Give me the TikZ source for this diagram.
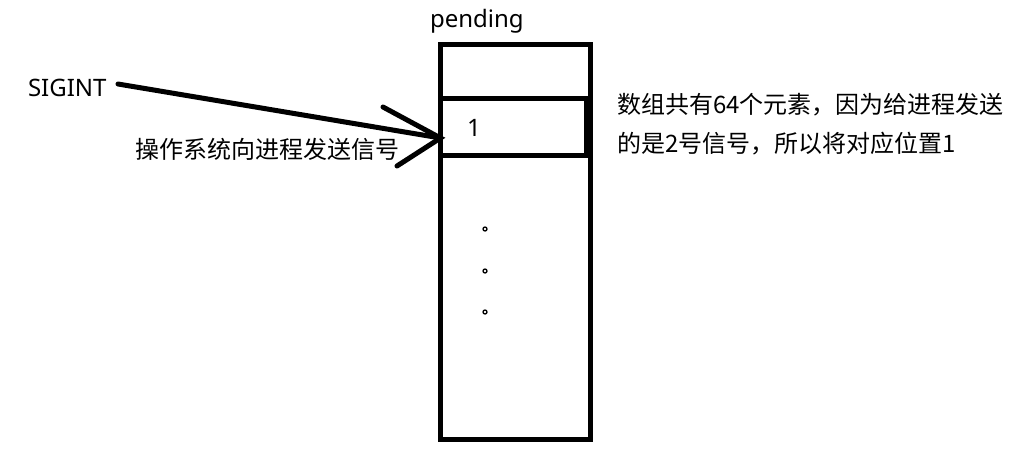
\documentclass[tikz,border=0pt]{standalone}
\usepackage{fontspec}
\setmainfont{Noto Sans}
\newfontfamily\cjk{Noto Sans CJK SC}
\tikzset{
  heavy/.style={line width=5pt, line cap=butt},
  cellbox/.style={draw, heavy, inner sep=0pt, outer sep=0pt},
  lbl/.style={inner sep=0pt, outer sep=0pt, anchor=base west, font=\fontsize{24}{28}\selectfont},
  dotc/.style={draw, line width=1.3pt, circle, inner sep=0pt, minimum size=4pt},
}
\begin{document}
\begin{tikzpicture}[x=1pt,y=-1pt]
\useasboundingbox (0,0) rectangle (1031,469);
% array outline and cells
\node[cellbox, minimum width=150pt, minimum height=395pt] (array) at (515.5,242) {};
\node[cellbox, minimum width=150pt, minimum height=54pt] (cellA) at (515.5,71.5) {};
\node[cellbox, minimum width=146pt, minimum height=57pt] (cellB) at (513.5,127) {};
\node[lbl] (one) at (467,136) {1};
\node[lbl] (pending) at (430,27) {pending};
% dots
\node[dotc] (d1) at (485,229) {};
\node[dotc] (d2) at (485,271) {};
\node[dotc] (d3) at (485,312) {};
% labels
\node[lbl] (sigint) at (28,96) {SIGINT};
\node[lbl] (os) at (135,158) {\cjk 操作系统向进程发送信号};
\node[lbl] (note1) at (617,113) {\cjk 数组共有64个元素，因为给进程发送};
\node[lbl] (note2) at (617,152) {\cjk 的是2号信号，所以将对应位置1};
% arrow
\coordinate (start) at (118,84);
\coordinate (tip) at (cellB.west |- 0,138);
\coordinate (armU) at (383,107);
\coordinate (armL) at (397,166);
\draw[heavy, line cap=round] (start) -- (tip);
\draw[heavy, line cap=round, line join=miter] (armU) -- (tip) -- (armL);
\end{tikzpicture}
\end{document}
